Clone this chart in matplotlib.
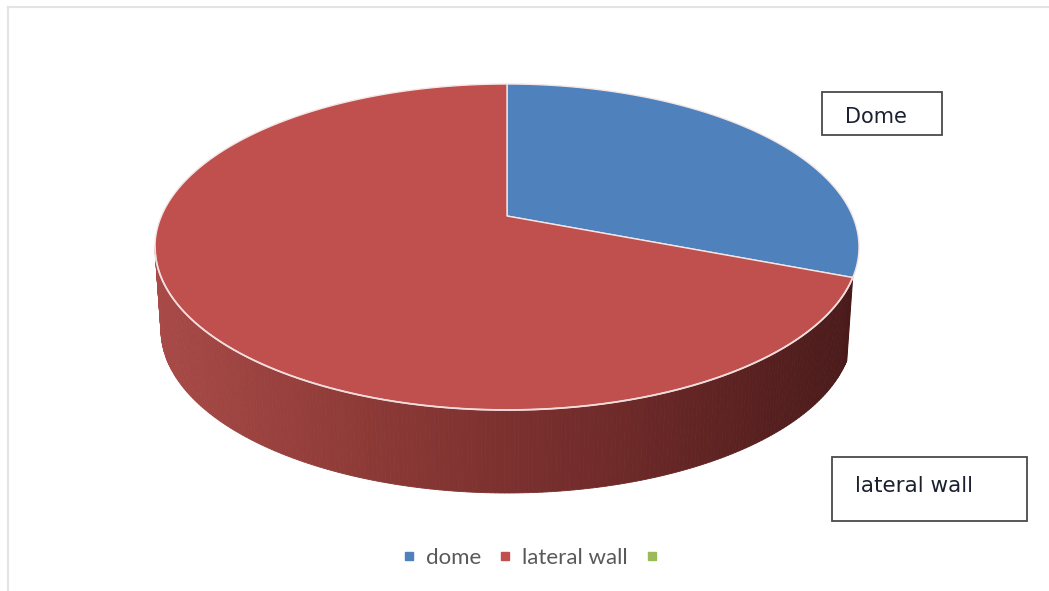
import numpy as np
import matplotlib.pyplot as plt
from matplotlib.patches import Polygon, Rectangle
from matplotlib.lines import Line2D
from matplotlib.colors import LinearSegmentedColormap

labels = ["dome", "lateral wall", ""]
values = [28, 72, 0]
colors = ["#4f81bd", "#c0504d", "#9bbb59"]
box_texts = ["Dome", "lateral wall"]

W, H = 1049, 591
cx, cy = 507, 247          # centre of the top ellipse (pixels)
a, b = 352, 163            # semi axes
apex_dy = -31              # perspective: slices meet above the centre
depth = 83
a_bot = 346

fig = plt.figure(figsize=(W / 100, H / 100), dpi=100)
ax = fig.add_axes([0, 0, 1, 1])
ax.set_xlim(0, W)
ax.set_ylim(H, 0)
ax.axis("off")

# chart frame (only top/left visible in the reference)
ax.plot([8, W], [7, 7], color="#e3e3e3", lw=1.5)
ax.plot([8, 8], [7, H], color="#e3e3e3", lw=1.5)


def ell(t, aa=a, yoff=0):
    t = np.radians(t)
    return cx + aa * np.cos(t), cy + yoff - b * np.sin(t)


total = sum(values)
angles = [v / total * 360 for v in values]
dome_end = 90 - angles[0]        # dome goes clockwise from 12 o'clock
side_end = 360 + dome_end        # visible side of lateral wall ends here

# side of the cylinder, drawn in strips with a left-to-right gradient
side_cmap = LinearSegmentedColormap.from_list(
    "side", ["#a84a47", "#8a3835", "#6e2a29", "#4a1a1a"])
ts = np.linspace(180, side_end, 220)
for t0, t1 in zip(ts[:-1], ts[1:]):
    x0, y0 = ell(t0)
    x1, y1 = ell(t1)
    bx0, by0 = ell(t0, a_bot, depth)
    bx1, by1 = ell(t1, a_bot, depth)
    c = side_cmap((0.5 * (x0 + x1) - 155) / 700)
    ax.add_patch(Polygon([(x0, y0), (x1, y1), (bx1, by1), (bx0, by0)],
                         closed=True, facecolor=c, edgecolor=c, lw=0.6))

# top faces
apex = (cx, cy + apex_dy)
start = 90
for i in range(2):
    t_arc = np.linspace(start - angles[i], start, 200)
    xs, ys = ell(t_arc)
    pts = [apex] + list(zip(xs, ys))
    ax.add_patch(Polygon(pts, closed=True, facecolor=colors[i],
                         edgecolor="#f4e6e6", lw=1.0, joinstyle="round"))
    start -= angles[i]

# light rim between top and side
xs, ys = ell(np.linspace(180, side_end, 300))
ax.plot(xs, ys, color="#f2dcdc", lw=1.3)

# text boxes
ax.add_patch(Rectangle((822, 92), 120, 43, facecolor="white",
                       edgecolor="#4a4a4a", lw=1.3))
ax.text(845, 117, box_texts[0], fontsize=15, color="#1b2030",
        va="center", ha="left", family="DejaVu Sans")
ax.add_patch(Rectangle((832, 457), 195, 64, facecolor="white",
                       edgecolor="#4a4a4a", lw=1.3))
ax.text(855, 486, box_texts[1], fontsize=15.5, color="#1b2030",
        va="center", ha="left", family="DejaVu Sans")

# legend
handles = [Line2D([], [], marker="s", ls="", markersize=6,
                  markerfacecolor=c, markeredgecolor=c) for c in colors]
leg = ax.legend(handles, labels, loc="center", bbox_to_anchor=(536, 558),
                bbox_transform=ax.transData, ncol=3, frameon=False,
                handlelength=0.5, handletextpad=0.5, columnspacing=0.85,
                prop={"family": "Lato", "size": 16})
for txt in leg.get_texts():
    txt.set_color("#595959")

fig.savefig("out.png", dpi=100)
